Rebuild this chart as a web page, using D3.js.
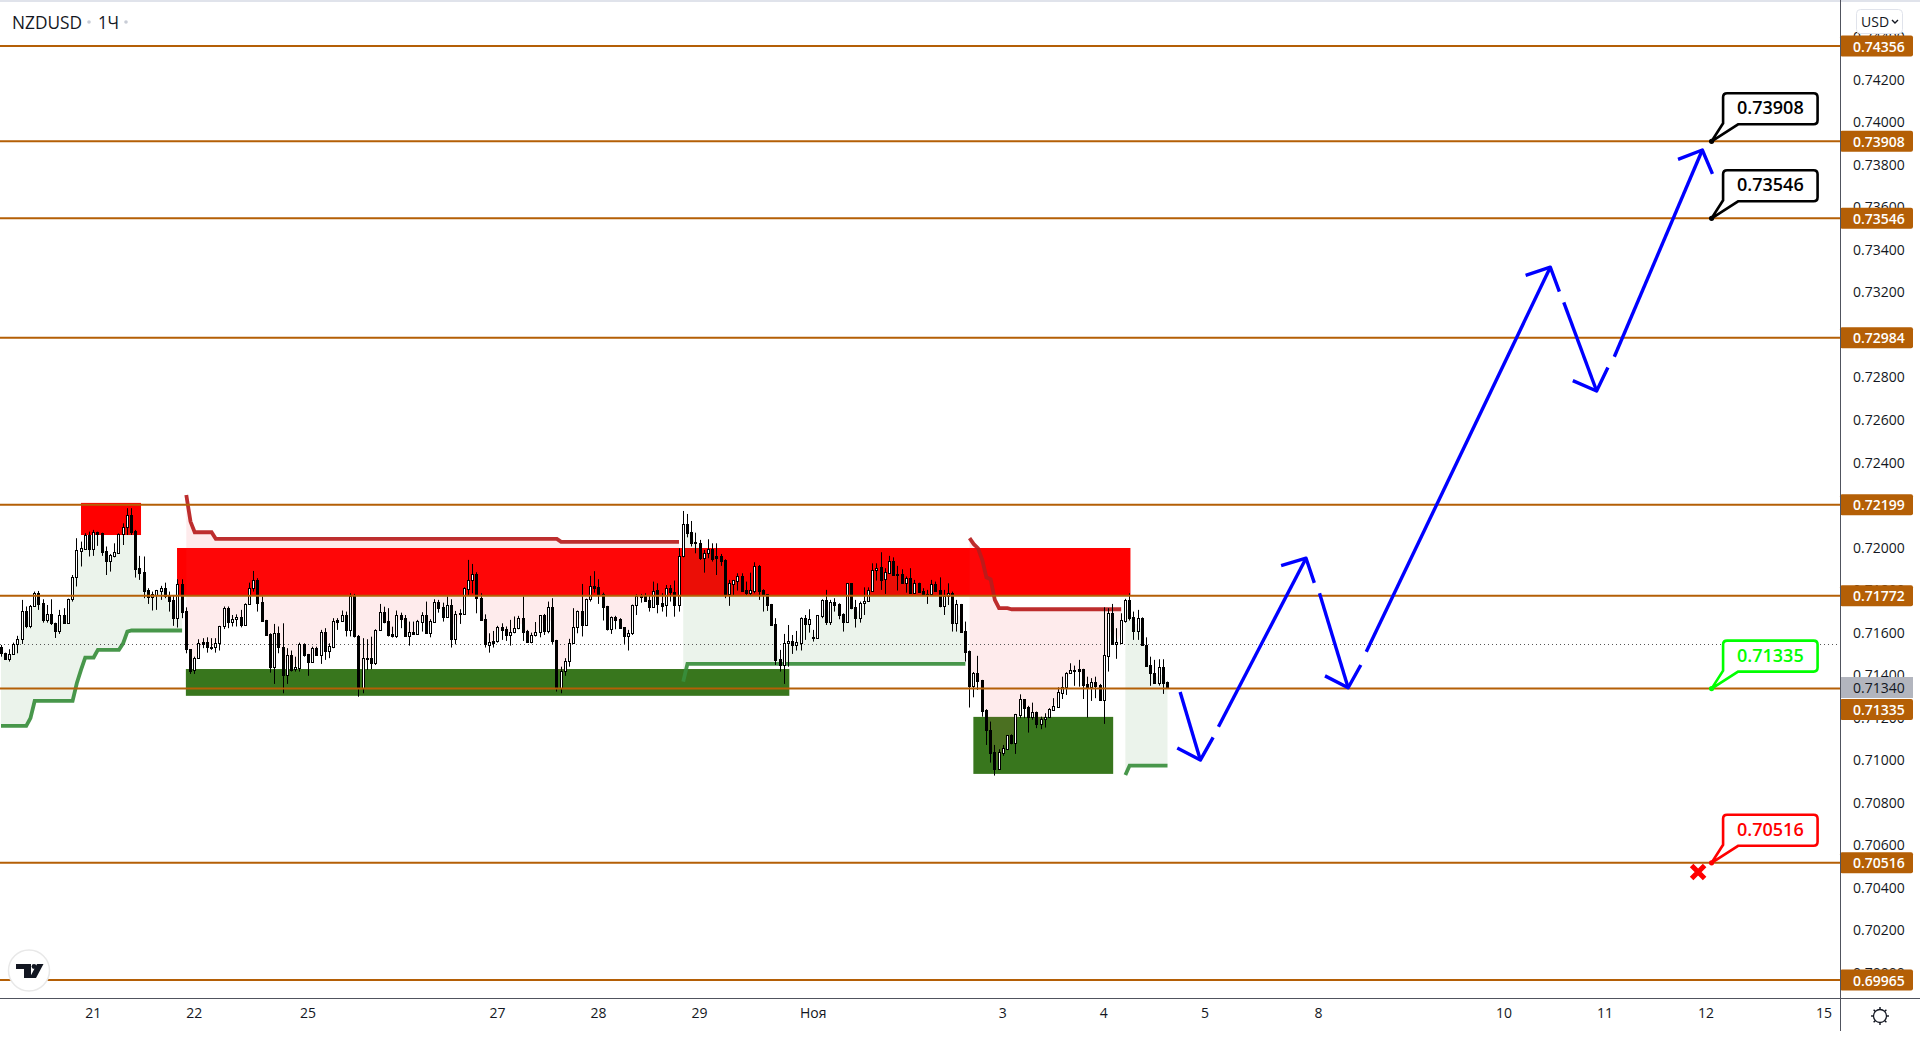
<!DOCTYPE html>
<html>
<head>
<meta charset="utf-8">
<title>NZDUSD</title>
<script src="https://cdnjs.cloudflare.com/ajax/libs/d3/7.8.5/d3.min.js"></script>
<style>
  html, body { margin: 0; padding: 0; background: #fff; }
  svg { display: block; }
  text { font-family: "Open Sans", "Noto Sans", sans-serif; }
</style>
</head>
<body>
<div id="chart"></div>
<script>
// Hourly candles, prices in points (0.71772 = 71772)
// each row: open, high, low, close
var candlesOct1 = [
  [71529,71540,71485,71501],[71501,71504,71470,71475],[71475,71520,71462,71496],[71496,71551,71493,71543],
  [71543,71583,71501,71567],[71567,71752,71545,71699],[71700,71721,71619,71631],[71631,71728,71619,71724],
  [71722,71791,71721,71783],[71783,71794,71705,71733],[71736,71755,71645,71658],[71659,71728,71645,71684],
  [71684,71755,71634,71642],[71645,71645,71573,71608],[71608,71705,71592,71681],[71681,71713,71639,71642],
  [71642,71758,71639,71755],[71755,71869,71744,71858],[71858,72042,71815,71987],[71984,72026,71909,71995],
  [71992,72065,71987,72057],[72057,72073,71956,71990],[71990,72081,71959,72070],[72070,72073,72006,72064],
  [72065,72068,71959,71979],[71982,72003,71869,71937],[71935,71968,71885,71962],[71959,72018,71952,71976],
  [71974,72065,71971,72061],[72061,72112,72010,72093],[72093,72183,72057,72150],[72151,72183,72057,72073],
  [72076,72081,71857,71899],[71902,71959,71846,71880],[71882,71956,71760,71796],[71799,71807,71733,71764],
  [71764,71791,71702,71780],[71775,71799,71705,71797],[71796,71818,71752,71808],[71807,71833,71760,71768],
  [71775,71791,71697,71749],[71752,71775,71630,71669],[71669,71849,71622,71826],[71827,71849,71666,71697],
  [71700,71717,71501,71520],[71520,71520,71404,71420],[71423,71485,71404,71478],[71478,71567,71478,71548],
  [71553,71572,71525,71545],[71553,71576,71504,71529],[71528,71572,71517,71532],[71529,71572,71504,71548],
  [71548,71630,71514,71627],[71627,71721,71615,71714],[71714,71721,71619,71650],[71650,71681,71627,71661],
  [71661,71684,71627,71670],[71670,71705,71623,71633],[71634,71736,71630,71731],[71731,71833,71728,71807],
  [71807,71888,71791,71846],[71846,71854,71697,71739],[71742,71768,71650,71655],[71656,71658,71589,71589],
  [71592,71595,71410,71438],[71438,71639,71357,71595],[71597,71627,71501,71529],[71531,71642,71313,71401],
  [71401,71525,71357,71493],[71493,71514,71415,71423],[71426,71485,71415,71435],[71432,71551,71415,71545],
  [71545,71548,71485,71493],[71496,71498,71395,71462],[71462,71532,71457,71526],[71526,71532,71489,71493],
  [71493,71611,71451,71600],[71601,71619,71470,71514],[71514,71548,71478,71537],[71532,71666,71525,71652],
  [71656,71666,71611,71650],[71655,71702,71650,71680],[71681,71697,71580,71611],[71611,71783,71580,71768],
  [71768,71780,71575,71580],[71583,71587,71297,71337],[71337,71572,71313,71478],[71478,71567,71423,71475],
  [71478,71579,71426,71454],[71454,71614,71446,71611],[71611,71733,71608,71694],[71694,71720,71642,71650],
  [71652,71713,71580,71587],[71590,71626,71575,71580],[71580,71702,71573,71680]
];
var candlesOct2 = [
  [71681,71692,71619,71664],[71666,71681,71580,71583],[71583,71650,71537,71600],[71601,71650,71587,71592],
  [71592,71658,71587,71653],[71650,71694,71603,71681],[71681,71744,71592,71598],[71598,71661,71576,71652],
  [71650,71755,71645,71741],[71741,71752,71692,71716],[71719,71739,71650,71673],[71673,71768,71670,71727],
  [71727,71755,71528,71570],[71570,71700,71543,71684],[71689,71708,71639,71684],[71688,71811,71684,71807],
  [71805,71940,71774,71846],[71846,71921,71783,71873],[71874,71882,71689,71760],[71761,71783,71653,71658],
  [71661,71684,71528,71543],[71542,71595,71504,71553],[71558,71606,71528,71551],[71558,71630,71551,71623],
  [71623,71642,71564,71612],[71615,71627,71559,71589],[71589,71658,71537,71600],[71600,71674,71595,71619],
  [71619,71677,71614,71666],[71667,71768,71559,71603],[71605,71611,71551,71554],[71556,71598,71548,71587],
  [71586,71648,71580,71600],[71600,71681,71576,71680],[71680,71686,71587,71608],[71608,71744,71595,71717],
  [71719,71760,71545,71561],[71562,71564,71321,71337],[71337,71438,71313,71418],[71418,71478,71395,71464],
  [71464,71569,71438,71548],[71548,71713,71545,71623],[71623,71702,71595,71700],[71700,71827,71580,71636],
  [71636,71758,71630,71755],[71755,71865,71744,71819],[71819,71887,71786,71810],[71811,71849,71733,71775],
  [71778,71786,71655,71720],[71724,71724,71608,71615],[71615,71674,71592,71670],[71672,71677,71614,71658],
  [71661,71666,71619,71622],[71623,71623,71545,71580],[71580,71611,71514,71595],[71595,71730,71587,71728],
  [71727,71778,71681,71768],[71771,71780,71739,71768],[71768,71783,71744,71749],[71750,71771,71697,71720],
  [71720,71838,71717,71796],[71797,71830,71689,71733],[71738,71783,71697,71725],[71727,71822,71673,71807],
  [71807,71822,71744,71788],[71791,71843,71673,71728],[71730,71995,71697,71957],[71956,72170,71952,72108],
  [72109,72156,72046,72067],[72070,72123,72003,72021],[72025,72068,71971,72018],[72018,72034,71940,71948],
  [71951,71987,71880,71974],[71974,72037,71948,71990],[71992,72018,71932,71946],[71959,72018,71869,71951],
  [71959,71968,71912,71937],[71940,71943,71760,71780],[71780,71846,71724,71830],[71829,71846,71775,71844],
  [71843,71877,71796,71863],[71865,71877,71791,71794],[71797,71838,71775,71783],[71783,71880,71775,71797],
  [71794,71929,71783,71912],[71912,71916,71752,71794],[71797,71802,71697,71775],[71778,71778,71700,71728],
  [71731,71733,71631,71634],[71637,71666,71446,71470],[71473,71517,71415,71446]
];
var candlesNov = [
  [71446,71592,71357,71551],[71548,71634,71438,71558],[71558,71587,71498,71540],[71540,71606,71514,71553],
  [71551,71670,71514,71666],[71666,71681,71564,71639],[71639,71708,71598,71661],[71578,71611,71556,71575],
  [71575,71681,71572,71680],[71678,71755,71666,71752],[71752,71799,71634,71650],[71650,71752,71634,71744],
  [71742,71760,71697,71728],[71733,71736,71661,71681],[71684,71689,71603,71648],[71650,71830,71648,71830],
  [71830,71830,71708,71716],[71717,71752,71622,71669],[71669,71744,71645,71736],[71736,71811,71681,71749],
  [71747,71811,71744,71799],[71796,71924,71794,71893],[71891,71924,71843,71904],[71905,71976,71799,71846],
  [71849,71901,71780,71882],[71880,71959,71874,71934],[71934,71952,71869,71871],[71873,71912,71796,71871],
  [71874,71896,71830,71833],[71833,71862,71786,71854],[71854,71901,71783,71786],[71786,71846,71783,71830],
  [71830,71833,71786,71791],[71793,71807,71775,71775],[71782,71799,71733,71777],[71780,71846,71777,71826],
  [71826,71838,71791,71794],[71799,71858,71717,71724],[71725,71799,71681,71768],[71771,71830,71728,71786],
  [71786,71791,71603,71645],[71645,71752,71603,71733],[71731,71733,71600,71603],[71606,71650,71462,71509],
  [71512,71514,71246,71349],[71349,71413,71294,71407],[71407,71489,71329,71373],[71376,71376,71203,71230],
  [71235,71238,71070,71138],[71141,71180,70987,71034],[71037,71070,70926,70959],[70959,71050,70956,71036],
  [71034,71070,71019,71055],[71053,71117,71047,71116],[71117,71120,71073,71081],[71081,71216,71028,71214],
  [71211,71308,71196,71285],[71285,71286,71196,71246],[71247,71254,71128,71200],[71200,71269,71188,71224],
  [71224,71227,71149,71167],[71167,71203,71144,71194],[71194,71219,71152,71203],[71202,71243,71196,71238],
  [71236,71290,71232,71254],[71250,71341,71247,71318],[71316,71391,71286,71344],[71344,71412,71305,71407],
  [71406,71454,71404,71421],[71421,71443,71348,71421],[71428,71470,71344,71420],[71426,71428,71286,71354],
  [71357,71391,71199,71341],[71344,71384,71277,71366],[71366,71391,71290,71348],[71352,71357,71282,71282],
  [71282,71717,71169,71493],[71490,71713,71415,71689],[71689,71733,71540,71543],[71543,71619,71475,71553],
  [71551,71689,71548,71656],[71655,71757,71645,71752],[71752,71783,71655,71666],[71670,71697,71564,71608],
  [71608,71705,71564,71666],[71666,71670,71536,71540],[71540,71576,71442,71443],[71446,71485,71348,71406],
  [71407,71470,71357,71362],[71363,71473,71349,71435],[71435,71473,71310,71363],[71365,71368,71334,71337]
];

// Horizontal levels
var levels = [74356, 73908, 73546, 72984, 72199, 71772, 71335, 70516, 69965];
var lastPrice = 71340;
var dottedPrice = 71543;

// Price axis
var priceTicks = [74400, 74200, 74000, 73800, 73600, 73400, 73200, 73000, 72800, 72600, 72400, 72200,
                  72000, 71800, 71600, 71400, 71200, 71000, 70800, 70600, 70400, 70200, 70000];

// Time axis: bar number and label
var timeTickBars = [22, 46, 73, 118, 142, 166, 193, 238, 262, 286, 313, 357, 381, 405, 433];
var timeTickLabels = ["21", "22", "25", "27", "28", "29", "Ноя", "3", "4", "5", "8", "10", "11", "12", "15"];

// Zones: bar from, bar to, price top, price bottom
var redZones = [[19, 33.25, 72208, 72057], [41.8, 268.2, 71996, 71772]];
var greenZones = [[43.9, 187.2, 71427, 71301], [230.9, 264.1, 71202, 70934]];

// Stop lines: [bar, price]
var stopUp1 = [[0,71160],[6,71160],[7,71196],[8,71277],[17,71277],[18,71360],[19,71423],[20,71481],[22,71481],[23,71517],[28,71517],[29,71548],[30,71603],[31,71608],[43,71608]];
var stopUp2 = [[162,71368],[163,71451],[229,71451]];
var stopUp3 = [[267,70929],[268,70973],[277,70973]];
var stopDown1 = [[44,72245],[45,72120],[46,72070],[50,72070],[51,72039],[132,72039],[133,72025],[161,72025]];
var stopDown2 = [[230,72042],[231,72014],[232,71995],[233,71940],[234,71858],[235,71849],[236,71752],[237,71713],[239,71713],[240,71708],[266,71708]];

// Forecast arrows: [start bar, start price, tip bar, tip price]
var arrows = [
  [280.0,71319,284.8,70999],
  [289.1,71156,309.9,71948],
  [313.1,71783,319.9,71339],
  [324.2,71508,367.9,73316],
  [371.1,73151,378.9,72734],
  [383.1,72895,404.0,73867]
];

// Callouts: bar, price, colour
var callouts = [
  [406.2, 73908, "#000000"],
  [406.2, 73546, "#000000"],
  [406.2, 71335, "#00ff00"],
  [406.2, 70516, "#ff0000"]
];
var stopCross = [403, 70473];

var width = 1920, height = 1044;
var paneRight = 1840, paneBottom = 998;
var levelColor = "#b45f06", axisColor = "#50535e", textColor = "#131722";

var candles = candlesOct1.concat(candlesOct2, candlesNov);

var x = d3.scaleLinear().domain([0, 277]).range([1, 1167.5]);
var y = d3.scaleLinear().domain([69965, 74356]).range([980, 46]);
var fmt = function(p) { return (p / 100000).toFixed(5); };
var crisp = function(v) { return Math.floor(v) + 0.5; };

var svg = d3.select("#chart").append("svg").attr("width", width).attr("height", height);

svg.append("defs").append("clipPath").attr("id", "pane")
    .append("rect").attr("width", paneRight).attr("height", paneBottom);

svg.append("rect").attr("width", width).attr("height", 2).attr("fill", "#e0e3eb");

var pane = svg.append("g").attr("clip-path", "url(#pane)");

// Zones
function drawZones(rows, color) {
  pane.append("g").selectAll("rect").data(rows).enter().append("rect")
      .attr("x", function(d) { return x(d[0]); })
      .attr("width", function(d) { return x(d[1]) - x(d[0]); })
      .attr("y", function(d) { return y(d[2]); })
      .attr("height", function(d) { return y(d[3]) - y(d[2]); })
      .attr("fill", color);
}
drawZones(redZones, "#ff0000");
drawZones(greenZones, "#38761d");

// Pale fill between stop line and price, then the stop line
function drawStop(points, fillColor, lineColor) {
  var barList = points.map(function(d) { return d[0]; });
  var stopAt = d3.scaleLinear().domain(barList).range(points.map(function(d) { return d[1]; }));
  var bars = d3.range(barList[0], barList[barList.length - 1] + 1);
  var area = d3.area()
      .x(function(b) { return x(b); })
      .y0(function(b) { return y(stopAt(b)); })
      .y1(function(b) { return y((candles[b][0] + candles[b][3]) / 2); });
  pane.append("path").datum(bars).attr("d", area).attr("fill", fillColor);
  return function() {
    var line = d3.line().x(function(d) { return x(d[0]); }).y(function(d) { return y(d[1]); });
    pane.append("path").datum(points).attr("d", line)
        .attr("fill", "none").attr("stroke", lineColor).attr("stroke-width", 3.8).attr("stroke-opacity", 0.92);
  };
}
var paleGreen = "rgba(56,142,60,0.1)", paleRed = "rgba(242,54,69,0.1)";
var stopLines = [
  drawStop(stopUp1, paleGreen, "#388e3c"),
  drawStop(stopDown1, paleRed, "#b71c1c"),
  drawStop(stopUp2, paleGreen, "#388e3c"),
  drawStop(stopDown2, paleRed, "#b71c1c"),
  drawStop(stopUp3, paleGreen, "#388e3c")
];
stopLines.forEach(function(draw) { draw(); });

// Dotted line
pane.append("line").attr("x1", 0).attr("x2", paneRight)
    .attr("y1", crisp(y(dottedPrice))).attr("y2", crisp(y(dottedPrice)))
    .attr("stroke", "#555").attr("stroke-dasharray", "1,3");

// Candles
var candle = pane.append("g").selectAll("g").data(candles).enter().append("g");
candle.append("line")
    .attr("x1", function(d, i) { return crisp(x(i)); })
    .attr("x2", function(d, i) { return crisp(x(i)); })
    .attr("y1", function(d) { return y(d[1]); })
    .attr("y2", function(d) { return y(d[2]); })
    .attr("stroke", "#000");
candle.append("rect")
    .attr("x", function(d, i) { return Math.floor(x(i)) - 0.5; })
    .attr("width", 2)
    .attr("y", function(d) { return Math.round(y(Math.max(d[0], d[3]))) + 0.5; })
    .attr("height", function(d) { return Math.max(1, Math.round(y(Math.min(d[0], d[3]))) - Math.round(y(Math.max(d[0], d[3])))); })
    .attr("fill", function(d) { return d[3] >= d[0] ? "#fff" : "#000"; })
    .attr("stroke", "#000");

// Levels
pane.append("g").selectAll("line").data(levels).enter().append("line")
    .attr("x1", 0).attr("x2", paneRight)
    .attr("y1", function(d) { return y(d); })
    .attr("y2", function(d) { return y(d); })
    .attr("stroke", levelColor).attr("stroke-width", 2);

// Arrows
var arrowG = pane.append("g").attr("fill", "none").attr("stroke", "#0000ff").attr("stroke-width", 3.4);
arrows.forEach(function(a) {
  var sx = x(a[0]), sy = y(a[1]), tx = x(a[2]), ty = y(a[3]);
  var ang = Math.atan2(sy - ty, sx - tx), wing = 26, spread = 46 * Math.PI / 180;
  arrowG.append("line").attr("x1", sx).attr("y1", sy).attr("x2", tx).attr("y2", ty);
  arrowG.append("path").attr("d",
    d3.line()([
      [tx + wing * Math.cos(ang - spread), ty + wing * Math.sin(ang - spread)],
      [tx, ty],
      [tx + wing * Math.cos(ang + spread), ty + wing * Math.sin(ang + spread)]
    ])).attr("stroke-linejoin", "round");
});

// Stop cross
var cx0 = x(stopCross[0]), cy0 = y(stopCross[1]);
pane.append("path")
    .attr("d", "M" + (cx0 - 6.5) + "," + (cy0 - 6.5) + "L" + (cx0 + 6.5) + "," + (cy0 + 6.5) +
               "M" + (cx0 + 6.5) + "," + (cy0 - 6.5) + "L" + (cx0 - 6.5) + "," + (cy0 + 6.5))
    .attr("stroke", "#ff0000").attr("stroke-width", 5).attr("fill", "none");

// Callouts
callouts.forEach(function(c) {
  var ax = x(c[0]), ay = y(c[1]), col = c[2];
  var l = ax + 11.5, r = ax + 106, t = ay - 48, b = ay - 17, rad = 4;
  var d = "M" + ax + "," + ay + "L" + l + "," + (b - 1) + "L" + l + "," + (t + rad) +
          "Q" + l + "," + t + " " + (l + rad) + "," + t + "L" + (r - rad) + "," + t +
          "Q" + r + "," + t + " " + r + "," + (t + rad) + "L" + r + "," + (b - rad) +
          "Q" + r + "," + b + " " + (r - rad) + "," + b + "L" + (l + 15) + "," + b + "Z";
  pane.append("path").attr("d", d).attr("fill", "#fff").attr("stroke", col).attr("stroke-width", 2.6);
  pane.append("circle").attr("cx", ax).attr("cy", ay).attr("r", 2.6).attr("fill", col);
  pane.append("text").attr("x", (l + r) / 2).attr("y", (t + b) / 2 - 1.5)
      .attr("text-anchor", "middle").attr("dominant-baseline", "central")
      .attr("font-size", 18).attr("font-weight", 600).attr("fill", col).text(fmt(c[1]));
});

// Price axis
var priceAxis = d3.axisRight(y).tickValues(priceTicks).tickSize(0).tickPadding(13).tickFormat(fmt);
var priceG = svg.append("g").attr("transform", "translate(" + paneRight + ",0.5)").call(priceAxis);
priceG.select(".domain").remove();
priceG.selectAll("text").attr("font-family", "Open Sans").attr("font-size", 14).attr("fill", textColor);

// Currency button
svg.append("rect").attr("x", 1856.5).attr("y", 9.5).attr("width", 46).attr("height", 24).attr("rx", 4)
    .attr("fill", "#fff").attr("stroke", "#e0e3eb");
svg.append("text").attr("x", 1861).attr("y", 21).attr("dominant-baseline", "central")
    .attr("font-size", 14).attr("fill", textColor).text("USD");
svg.append("path").attr("d", "M1892,20l3,3l3,-3").attr("fill", "none").attr("stroke", textColor).attr("stroke-width", 1.4);

// Level labels, the last one pushed under the last price tag
var lastG = svg.append("g");
lastG.append("rect").attr("x", paneRight).attr("y", y(lastPrice) - 10.5).attr("width", 73).attr("height", 21).attr("fill", "#b2b5be");
lastG.append("text").attr("x", 1853).attr("y", y(lastPrice)).attr("dominant-baseline", "central")
    .attr("font-size", 14).attr("fill", textColor).text(fmt(lastPrice));

var tag = svg.append("g").selectAll("g").data(levels).enter().append("g")
    .attr("transform", function(d) { return "translate(" + paneRight + "," + (y(d) + (d === 71335 ? 21 : 0)) + ")"; });
tag.append("rect").attr("y", -10.5).attr("width", 73).attr("height", 21).attr("rx", 2).attr("fill", levelColor);
tag.append("text").attr("x", 13).attr("dominant-baseline", "central")
    .attr("font-size", 14).attr("font-weight", 600).attr("fill", "#fff").text(fmt);

// Time axis
var timeAxis = d3.axisBottom(x).tickValues(timeTickBars).tickSize(0).tickPadding(10)
    .tickFormat(function(d, i) { return timeTickLabels[i]; });
var timeG = svg.append("g").attr("transform", "translate(-1," + paneBottom + ")").call(timeAxis);
timeG.select(".domain").remove();
timeG.selectAll("text").attr("font-family", "Open Sans").attr("font-size", 14).attr("fill", textColor);

// Axis lines
svg.append("line").attr("x1", 0).attr("x2", width).attr("y1", paneBottom + 0.5).attr("y2", paneBottom + 0.5).attr("stroke", axisColor);
svg.append("line").attr("x1", paneRight + 0.5).attr("x2", paneRight + 0.5).attr("y1", 0).attr("y2", 1031).attr("stroke", axisColor);

// Settings gear
var gear = svg.append("g").attr("transform", "translate(1880,1016)").attr("stroke", textColor).attr("fill", "none");
gear.append("circle").attr("r", 6.5).attr("stroke-width", 1.3);
d3.range(8).forEach(function(i) {
  var a = i * Math.PI / 4;
  gear.append("line").attr("x1", 6.5 * Math.cos(a)).attr("y1", 6.5 * Math.sin(a))
      .attr("x2", 9 * Math.cos(a)).attr("y2", 9 * Math.sin(a)).attr("stroke-width", 1.4);
});

// Title
svg.append("text").attr("x", 12).attr("y", 22).attr("dominant-baseline", "central")
    .attr("font-size", 19).attr("textLength", 70).attr("lengthAdjust", "spacingAndGlyphs")
    .attr("fill", textColor).text("NZDUSD");
svg.append("circle").attr("cx", 89).attr("cy", 22).attr("r", 1.8).attr("fill", "#c8ccd6");
svg.append("text").attr("x", 98).attr("y", 22).attr("dominant-baseline", "central")
    .attr("font-size", 19).attr("textLength", 21).attr("lengthAdjust", "spacingAndGlyphs")
    .attr("fill", textColor).text("1Ч");
svg.append("circle").attr("cx", 126).attr("cy", 22).attr("r", 1.8).attr("fill", "#c8ccd6");

// Logo badge
var logo = svg.append("g");
logo.append("circle").attr("cx", 29).attr("cy", 970.5).attr("r", 20.5).attr("fill", "#fff").attr("stroke", "#e8e8e8").attr("stroke-width", 1.5);
logo.append("path").attr("fill", "#131722")
    .attr("d", "M16,964H31V978H24V969H16ZM37,964H43.5L36,978H29.5Z");
logo.append("circle").attr("cx", 34).attr("cy", 966.5).attr("r", 2.4).attr("fill", "#131722");
</script>
</body>
</html>
